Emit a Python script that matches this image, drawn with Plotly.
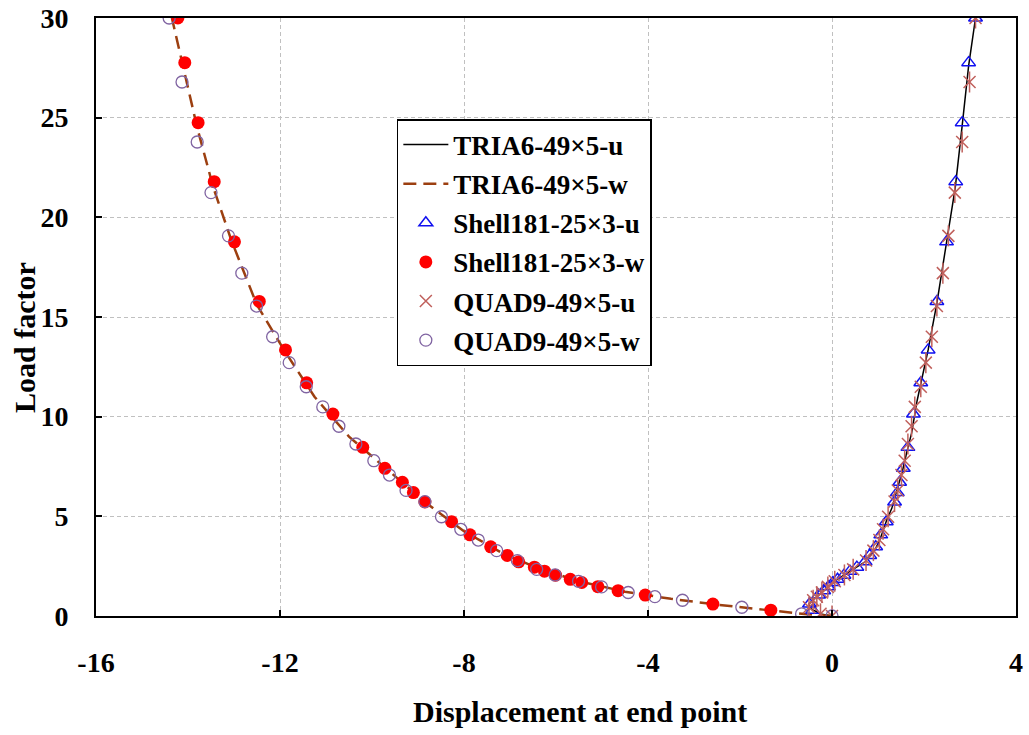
import plotly.graph_objects as go

# ---- data ----
# TRIA6-49x5 (continuous curves)
tria6_u_x = [0.0, -0.25, -0.45, -0.5, -0.33, -0.12, 0.10, 0.32, 0.54, 0.72, 0.93, 1.04, 1.19, 1.30,
             1.41, 1.52, 1.62, 1.73, 1.85, 1.97, 2.09, 2.28, 2.49, 2.68, 2.83, 2.97, 3.12]
tria6_u_y = [0.0, 0.10, 0.35, 0.60, 0.97, 1.39, 1.81, 2.14, 2.47, 2.72, 3.31, 3.81, 4.82, 5.40,
             6.32, 7.16, 8.16, 9.17, 10.8, 12.0, 13.35, 15.7, 18.8, 21.5, 24.6, 27.6, 30.0]

tria6_w_x = [0.0, -0.3, -0.6, -1.5, -2.5, -3.5, -4.5, -5.5, -6.4, -7.2, -8.0, -8.85, -9.7, -10.5,
             -11.25, -11.9, -12.5, -13.05, -13.45, -13.8, -14.1, -14.35]
tria6_w_y = [0.0, 0.04, 0.10, 0.32, 0.57, 0.86, 1.22, 1.74, 2.40, 3.20, 4.25, 5.72, 7.40, 9.00,
             11.0, 13.3, 15.6, 18.8, 21.5, 24.5, 27.5, 30.0]

# Shell181-25x3 (same load steps for u and w)
shell_load = [30.0, 27.76, 24.75, 21.79, 18.77, 15.78, 13.35, 11.70, 10.13, 8.46, 7.41, 6.71,
              6.19, 5.72, 4.73, 4.07, 3.47, 3.04, 2.72, 2.45, 2.25, 2.05, 1.84, 1.68, 1.47,
              1.27, 1.05, 0.60, 0.29]
shell_u = [3.12, 2.97, 2.83, 2.69, 2.49, 2.28, 2.09, 1.93, 1.77, 1.65, 1.55, 1.47,
           1.42, 1.36, 1.18, 1.06, 0.95, 0.82, 0.72, 0.54, 0.39, 0.26, 0.12, 0.02, -0.08,
           -0.18, -0.29, -0.49, -0.42]
shell_w = [-14.22, -14.07, -13.78, -13.43, -12.99, -12.45, -11.88, -11.42, -10.85, -10.20,
           -9.72, -9.34, -9.10, -8.85, -8.27, -7.87, -7.42, -7.06, -6.81, -6.47, -6.25, -6.01,
           -5.69, -5.44, -5.09, -4.65, -4.06, -2.59, -1.33]

# QUAD9-49x5 (same load steps for u and w)
quad_load = [30.0, 26.79, 23.78, 21.24, 19.07, 17.2, 15.55, 14.01, 12.71, 11.5, 10.49, 9.52,
             8.63, 7.79, 7.07, 6.30, 5.74, 4.98, 4.35, 3.81, 3.28, 2.78, 2.34, 2.06, 1.74,
             1.46, 1.18, 0.97, 0.79, 0.44, 0.11, 0.0]
quad_u = [3.12, 2.99, 2.83, 2.67, 2.53, 2.41, 2.28, 2.17, 2.04, 1.93, 1.80, 1.73,
          1.65, 1.58, 1.51, 1.43, 1.36, 1.22, 1.11, 1.03, 0.90, 0.74, 0.46, 0.27, 0.06,
          -0.09, -0.22, -0.33, -0.41, -0.50, -0.25, 0.0]
quad_w = [-14.41, -14.13, -13.80, -13.50, -13.12, -12.83, -12.51, -12.16, -11.80, -11.43,
          -11.07, -10.72, -10.35, -9.96, -9.62, -9.26, -8.85, -8.49, -8.07, -7.69, -7.29,
          -6.84, -6.42, -6.02, -5.51, -5.01, -4.43, -3.85, -3.25, -1.96, -0.66, 0.0]

x_ticks = [-16, -12, -8, -4, 0, 4]
y_ticks = [0, 5, 10, 15, 20, 25, 30]

FONT = "Liberation Serif"
STAR = "#C0605C"

fig = go.Figure()
fig.add_trace(go.Scatter(x=tria6_u_x, y=tria6_u_y, mode="lines", name="<b>TRIA6-49×5-u</b>",
                         line=dict(color="black", width=1.5), legendgroup="a"))
fig.add_trace(go.Scatter(x=tria6_w_x, y=tria6_w_y, mode="lines", name="<b>TRIA6-49×5-w</b>",
                         line=dict(color="#9C3F10", width=2.5, dash="13px,7px"), legendgroup="b"))
fig.add_trace(go.Scatter(x=shell_u, y=shell_load, mode="markers", name="<b>Shell181-25×3-u</b>",
                         marker=dict(symbol="triangle-up-open", size=12, color="#1010F0",
                                     line=dict(width=1.5)), legendgroup="c"))
fig.add_trace(go.Scatter(x=shell_w, y=shell_load, mode="markers", name="<b>Shell181-25×3-w</b>",
                         marker=dict(symbol="circle", size=13, color="#FF0000"), legendgroup="d"))
fig.add_trace(go.Scatter(x=quad_u, y=quad_load, mode="markers", name="<b>QUAD9-49×5-u</b>",
                         marker=dict(symbol="x-thin-open", size=12, color=STAR,
                                     line=dict(width=1.5, color=STAR)), legendgroup="e"))
fig.add_trace(go.Scatter(x=quad_u, y=quad_load, mode="markers", showlegend=False,
                         marker=dict(symbol="line-ns-open", size=15, color=STAR,
                                     line=dict(width=1.5, color=STAR)), legendgroup="e",
                         hoverinfo="skip"))
fig.add_trace(go.Scatter(x=quad_w, y=quad_load, mode="markers", name="<b>QUAD9-49×5-w</b>",
                         marker=dict(symbol="circle-open", size=12, color="#8064A2",
                                     line=dict(width=1.3, color="#8064A2")), legendgroup="f"))

axis_common = dict(
    showgrid=True, gridcolor="#C0C0C0", griddash="4px,3px", gridwidth=1,
    showline=True, linecolor="black", linewidth=2, mirror=True,
    ticks="inside", ticklen=6, tickcolor="black", tickwidth=1.5,
    zeroline=False, automargin=False, ticklabeloverflow="allow",
    tickfont=dict(family=FONT, size=28, color="black", weight="bold"),
)

title_font = dict(family=FONT, size=30, color="black")

fig.update_layout(
    width=1029, height=735,
    paper_bgcolor="white", plot_bgcolor="white",
    margin=dict(l=96, r=13, t=18, b=119),
    font=dict(family=FONT, color="black"),
    xaxis=dict(range=[-16, 4], tickvals=x_ticks, ticktext=[str(v) for v in x_ticks],
               ticklabelstandoff=20, **axis_common),
    yaxis=dict(range=[0, 30], tickvals=y_ticks, ticktext=[str(v) for v in y_ticks],
               ticklabelstandoff=20, **axis_common),
    legend=dict(x=0.327, y=0.831, xanchor="left", yanchor="top",
                bgcolor="white", bordercolor="black", borderwidth=1.5,
                font=dict(family=FONT, size=27, color="black"),
                traceorder="grouped", tracegroupgap=1, itemwidth=45),
    showlegend=True,
    annotations=[
        dict(text="<b>Displacement at end point</b>", xref="paper", yref="paper",
             x=0.526, y=-0.1605, xanchor="center", yanchor="middle",
             showarrow=False, font=title_font),
        dict(text="<b>Load factor</b>", xref="paper", yref="paper",
             x=-0.0772, y=0.4666, xanchor="center", yanchor="middle", textangle=-90,
             showarrow=False, font=title_font),
    ],
)

# remove the default 8px page margin so the figure fills the window exactly
fig.write_html("out.html", config={"displayModeBar": False},
               post_script="document.body.style.margin='0';")
